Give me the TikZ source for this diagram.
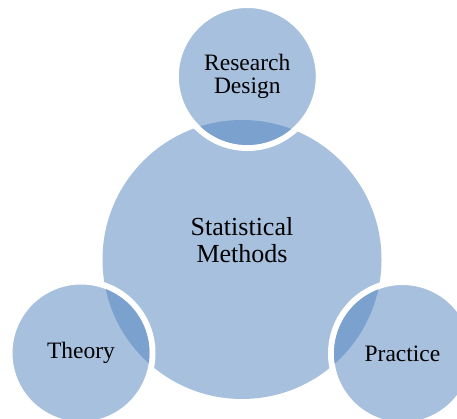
\documentclass[tikz,border=0pt]{standalone}
\usepackage{fontspec}
\setmainfont{Liberation Serif}
\definecolor{discblue}{HTML}{A7C0DE}
\definecolor{overlapblue}{HTML}{7BA2CE}

\begin{document}
\begin{tikzpicture}[x=1pt, y=1pt,
    bigdisc/.style={circle, fill=discblue, inner sep=0pt, minimum size=279pt},
    smalldisc/.style={circle, fill=discblue, draw=white, line width=6pt, inner sep=0pt, minimum size=143pt, align=center, font=\fontsize{23.5}{23.5}\selectfont}]
    \clip (0,0) rectangle (457,419);

    \node[bigdisc] (stat) at (242,159.5) {};
    \node[align=center, font=\fontsize{26}{27.7}\selectfont] (stat_text) at (242,179) {Statistical\\Methods};

    \node[smalldisc] (design) at (247.3,342.5) {Research\\Design};
    \node[smalldisc] (theory) at (81,66) {Theory};
    \node[smalldisc] (practice) at (402.5,65.5) {Practice};

    % darker lens where a small disc sits on the big one
    \foreach \c in {design, theory, practice} {
        \begin{scope}
            \clip (\c.center) circle[radius=68.5pt];
            \fill[overlapblue] (stat.center) circle[radius=139.5pt];
        \end{scope}
    }
\end{tikzpicture}
\end{document}
